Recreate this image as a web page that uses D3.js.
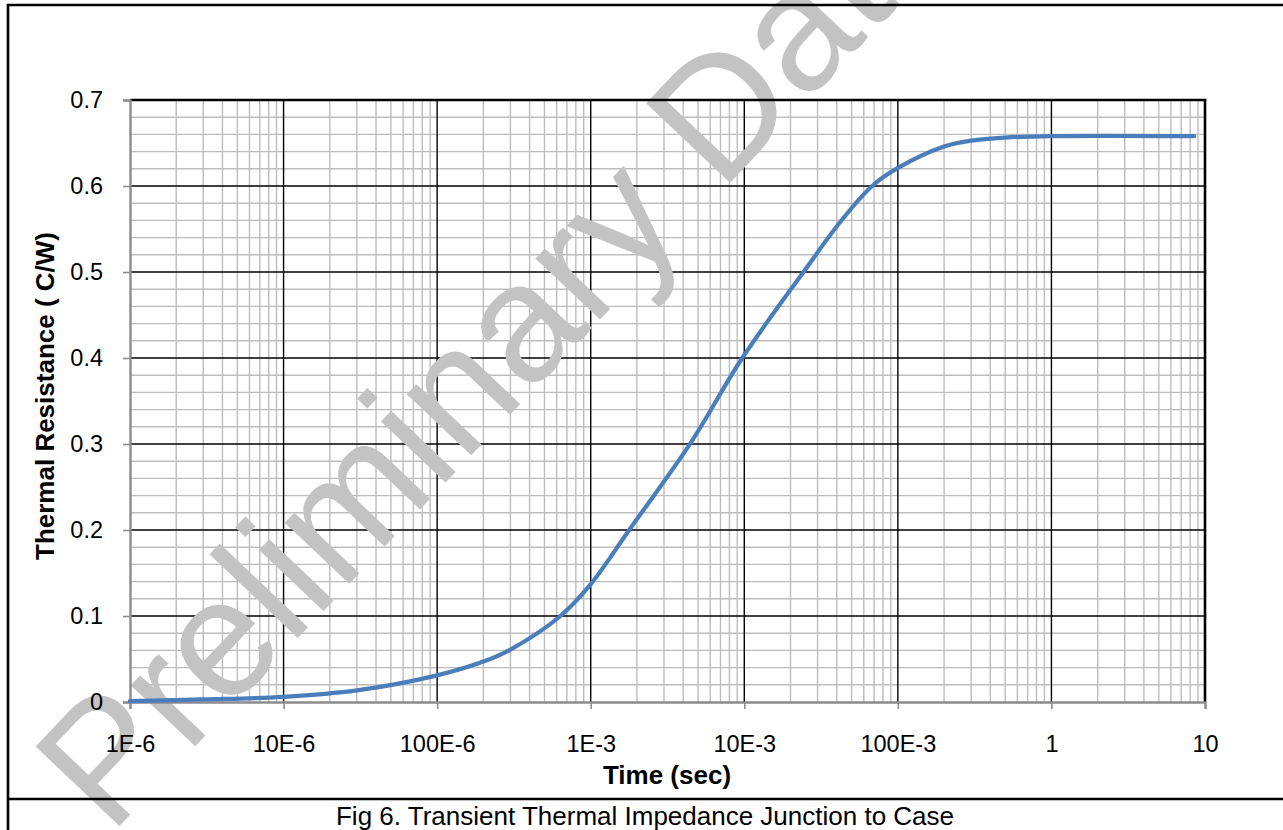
<!DOCTYPE html>
<html>
<head>
<meta charset="utf-8">
<script src="https://cdn.jsdelivr.net/npm/d3@7"></script>
<style>
  html, body { margin: 0; padding: 0; background: #fff; }
  svg { display: block; font-family: "Liberation Sans", Arial, sans-serif; }
</style>
</head>
<body>
<svg id="chart" width="1283" height="830"></svg>
<script>
// Transient thermal impedance, junction to case
const timeSec = [1e-6, 3e-6, 1e-5, 3e-5, 1e-4, 2e-4, 3e-4, 6.35e-4,
                 1e-3, 1.78e-3, 4.5e-3, 9.7e-3, 2.43e-2, 4.25e-2,
                 6.8e-2, 0.1, 0.2, 0.3, 0.5, 1, 8.5];
const zthJC   = [0.001, 0.003, 0.006, 0.0135, 0.031, 0.047, 0.061, 0.100,
                 0.137, 0.200, 0.302, 0.400, 0.500, 0.559,
                 0.600, 0.621, 0.646, 0.6528, 0.6563, 0.658, 0.658];
const xTickValues = [1e-6, 1e-5, 1e-4, 1e-3, 1e-2, 1e-1, 1, 10];
const xTickLabels = ["1E-6", "10E-6", "100E-6", "1E-3", "10E-3", "100E-3", "1", "10"];
const yTickValues = [0, 0.1, 0.2, 0.3, 0.4, 0.5, 0.6, 0.7];
const yTickLabels = ["0", "0.1", "0.2", "0.3", "0.4", "0.5", "0.6", "0.7"];
const xTitle = "Time (sec)";
const yTitle = "Thermal Resistance ( C/W)";
const caption = "Fig 6. Transient Thermal Impedance Junction to Case";
const watermark = "Preliminary Data";

const svg = d3.select("#chart");
const plotL = 130, plotR = 1205, plotT = 100, plotB = 702;
const FONT = "Liberation Sans, Arial, sans-serif";

const x = d3.scaleLog().domain([1e-6, 10]).range([plotL, plotR]);
const y = d3.scaleLinear().domain([0, 0.7]).range([plotB, plotT]);

// minor grid: 2..9 within each decade, every 0.02 vertically
const minorX = [];
for (let e = -6; e < 1; e++) for (let m = 2; m <= 9; m++) minorX.push(m * Math.pow(10, e));
const minorY = d3.range(1, 35).filter(k => k % 5 !== 0).map(k => k * 0.02);

const grid = svg.append("g");
grid.selectAll("line.mx").data(minorX).join("line")
  .attr("x1", d => x(d)).attr("x2", d => x(d)).attr("y1", plotT).attr("y2", plotB)
  .attr("stroke", "#bdbdbd").attr("stroke-width", 1.4);
grid.selectAll("line.my").data(minorY).join("line")
  .attr("x1", plotL).attr("x2", plotR).attr("y1", d => y(d)).attr("y2", d => y(d))
  .attr("stroke", "#bdbdbd").attr("stroke-width", 1.4);
// major grid
grid.selectAll("line.Mx").data(xTickValues.slice(1, -1)).join("line")
  .attr("x1", d => x(d)).attr("x2", d => x(d)).attr("y1", plotT).attr("y2", plotB)
  .attr("stroke", "#000").attr("stroke-width", 1.4);
grid.selectAll("line.My").data(yTickValues.slice(1, -1)).join("line")
  .attr("x1", plotL).attr("x2", plotR).attr("y1", d => y(d)).attr("y2", d => y(d))
  .attr("stroke", "#000").attr("stroke-width", 1.4);

// watermark sits over the grid, under axes, labels and the curve
svg.append("text").attr("transform", "translate(110,836) rotate(-46.5)")
  .attr("font-size", 168).attr("fill", "#c3c3c3")
  .text(watermark);

// plot frame: black top and right, grey axes at left and bottom
svg.append("line").attr("x1", plotL).attr("x2", plotR + 1.3).attr("y1", plotT).attr("y2", plotT)
  .attr("stroke", "#000").attr("stroke-width", 2.6);
svg.append("line").attr("x1", plotR).attr("x2", plotR).attr("y1", plotT).attr("y2", plotB)
  .attr("stroke", "#000").attr("stroke-width", 2.6);

const xAxis = d3.axisBottom(x).tickValues(xTickValues)
  .tickFormat((d, i) => xTickLabels[i]).tickSize(7).tickPadding(26);
const gx = svg.append("g").attr("transform", `translate(0,${plotB})`).call(xAxis);
gx.select(".domain").attr("stroke", "#8c8c8c").attr("stroke-width", 2.4);
gx.selectAll(".tick line").attr("stroke", "#8c8c8c").attr("stroke-width", 1.6);
gx.selectAll(".tick text").attr("font-size", 23.5).attr("fill", "#000").attr("font-family", FONT);

const yAxis = d3.axisLeft(y).tickValues(yTickValues)
  .tickFormat((d, i) => yTickLabels[i]).tickSize(7).tickPadding(20);
const gy = svg.append("g").attr("transform", `translate(${plotL},0)`).call(yAxis);
gy.select(".domain").attr("stroke", "#8c8c8c").attr("stroke-width", 2.4);
gy.selectAll(".tick line").attr("stroke", "#8c8c8c").attr("stroke-width", 1.6);
gy.selectAll(".tick text").attr("font-size", 23.5).attr("fill", "#000").attr("font-family", FONT);

// impedance curve
const line = d3.line().x(d => x(d[0])).y(d => y(d[1])).curve(d3.curveCatmullRom.alpha(0.5));
svg.append("path").datum(timeSec.map((t, i) => [t, zthJC[i]]))
  .attr("d", line).attr("fill", "none").attr("stroke", "#4a7ebb")
  .attr("stroke-width", 4.2).attr("stroke-linecap", "round");

// axis titles
svg.append("text").attr("x", 667).attr("y", 784)
  .attr("text-anchor", "middle").attr("font-size", 26).attr("font-weight", "bold").text(xTitle);
svg.append("text").attr("transform", "translate(54,396) rotate(-90)")
  .attr("text-anchor", "middle").attr("font-size", 26).attr("font-weight", "bold").text(yTitle);

// outer frame and caption row
svg.append("line").attr("x1", 8).attr("x2", 8).attr("y1", 4).attr("y2", 830)
  .attr("stroke", "#000").attr("stroke-width", 2.6);
svg.append("line").attr("x1", 7).attr("x2", 1283).attr("y1", 5).attr("y2", 5)
  .attr("stroke", "#000").attr("stroke-width", 2.6);
svg.append("line").attr("x1", 7).attr("x2", 1283).attr("y1", 799).attr("y2", 799)
  .attr("stroke", "#000").attr("stroke-width", 2.6);
svg.append("text").attr("x", 645).attr("y", 825).attr("text-anchor", "middle")
  .attr("font-size", 26).text(caption);
</script>
</body>
</html>
